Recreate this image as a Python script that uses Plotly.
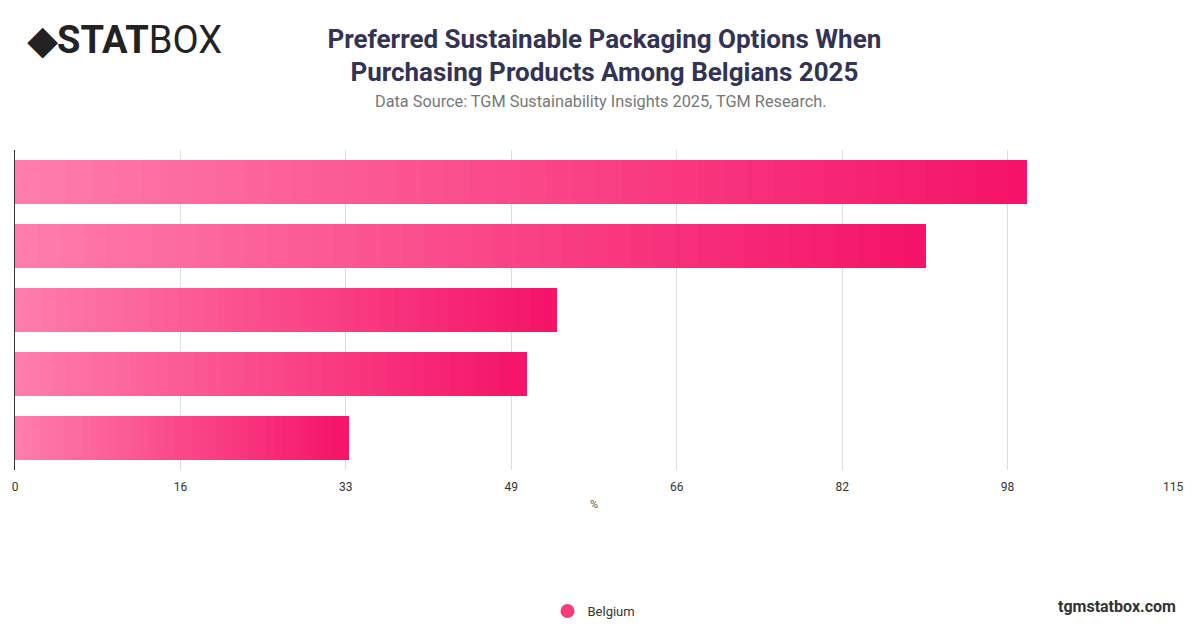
import plotly.graph_objects as go
import numpy as np

categories = ["Option A", "Option B", "Option C", "Option D", "Option E"]
values = [100.5, 90.5, 53.8, 50.8, 33.2]
tick_labels = ["0", "16", "33", "49", "66", "82", "98", "115"]
x_max = 115

N = 40
c0 = np.array([255, 125, 170])
c1 = np.array([245, 20, 105])
fig = go.Figure()
for k in range(N):
    t = k / (N - 1)
    c = (c0 + (c1 - c0) * t).astype(int)
    fig.add_trace(go.Bar(
        y=categories, x=[v / N for v in values], orientation="h",
        marker=dict(color=f"rgb({c[0]},{c[1]},{c[2]})", line=dict(width=0)),
        showlegend=False, hoverinfo="skip"))
fig.add_trace(go.Scatter(x=[None], y=[None], mode="markers", name="Belgium",
                         marker=dict(symbol="circle", size=14, color="rgb(245,60,125)")))

OX, OY = 7, 8  # page offset
L, R, T, B = 14 - OX, 1172 - OX, 150 - OY, 470 - OY
def px(x): return (x - OX - L) / (R - L)
def py(y): return (B - (y - OY)) / (B - T)

fig.update_layout(
    width=1200, height=628, barmode="stack", bargap=0.3,
    plot_bgcolor="white", paper_bgcolor="white",
    margin=dict(l=L, r=1200 - R, t=T, b=628 - B, autoexpand=False),
    font=dict(family="Roboto, sans-serif", color="#444"),
    title=dict(text="<b>Preferred Sustainable Packaging Options When<br>Purchasing Products Among Belgians 2025</b>",
               x=0.497, xanchor="center", y=0.937, yanchor="top",
               font=dict(size=26, color="#333355", family="Roboto, sans-serif")),
    xaxis=dict(range=[0, x_max], tickvals=[i * x_max / 7 for i in range(8)], ticktext=tick_labels,
               showgrid=True, gridcolor="#dddddd", zeroline=False, tickfont=dict(size=12, color="#333"),
               ticks="outside", ticklen=6, tickcolor="white",
               title=dict(text="%", font=dict(size=11, color="#555"), standoff=6)),
    yaxis=dict(autorange="reversed", showticklabels=False, showgrid=False,
               showline=True, linecolor="#333", linewidth=1),
    legend=dict(orientation="h", x=0.5, xanchor="center", y=py(596), yanchor="top",
                font=dict(size=13, color="#333")),
    annotations=[
        dict(text="Data Source: TGM Sustainability Insights 2025, TGM Research.", x=px(600), y=py(101),
             xref="paper", yref="paper", yanchor="middle", showarrow=False, font=dict(size=16.3, color="#777")),
        dict(text="<b>◆STAT</b>BOX", x=px(24), y=py(40), xref="paper", yref="paper", xanchor="left",
             yanchor="middle", showarrow=False, font=dict(size=38, color="#222")),
        dict(text="<b>tgmstatbox.com</b>", x=px(1177), y=py(606), xref="paper", yref="paper", xanchor="right",
             yanchor="middle", showarrow=False, font=dict(size=16, color="#333")),
    ],
)
fig.write_html("out.html")
